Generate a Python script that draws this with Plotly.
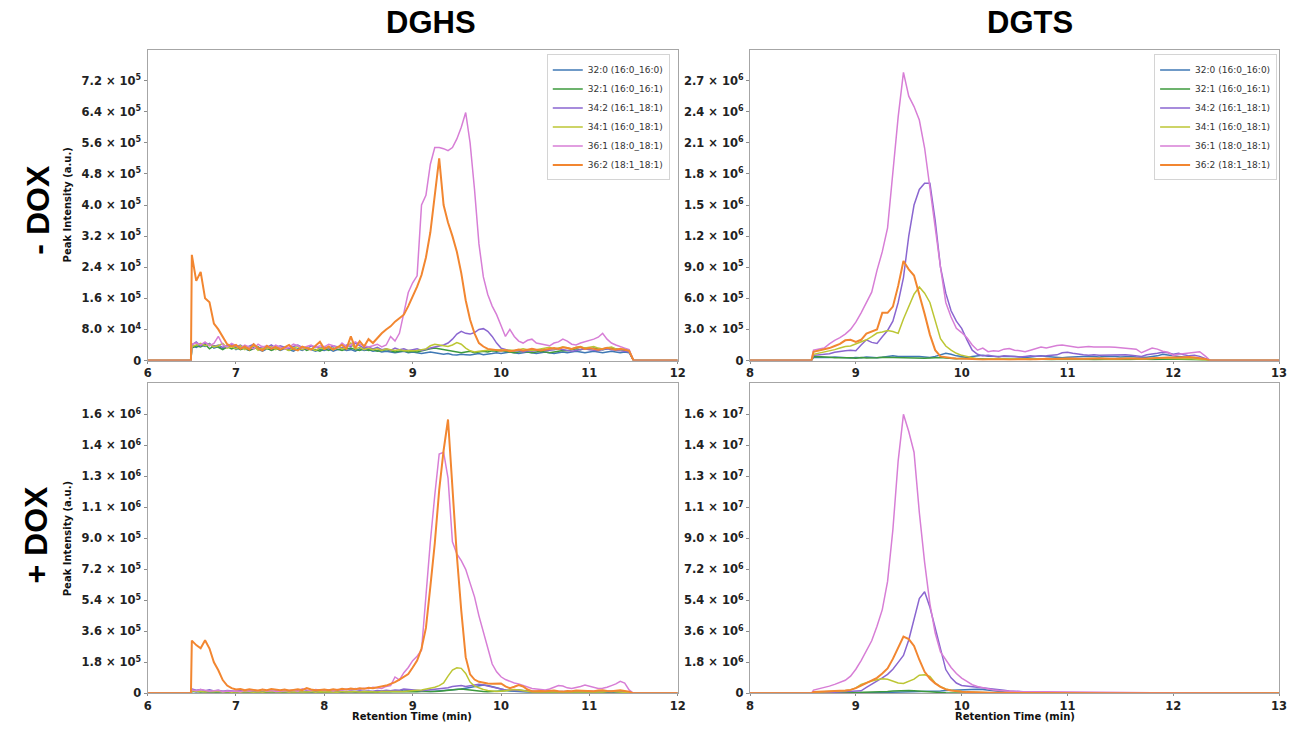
import plotly.graph_objects as go

# ---------------- categories / labels ----------------
SPECIES = ["32:0 (16:0_16:0)", "32:1 (16:0_16:1)", "34:2 (16:1_18:1)",
           "34:1 (16:0_18:1)", "36:1 (18:0_18:1)", "36:2 (18:1_18:1)"]
COLORS = ["#3f78b5", "#3d9a3d", "#8a66d0", "#bcc634", "#d77ed6", "#f28630"]
COL_TITLES = ["DGHS", "DGTS"]
ROW_TITLES = ["- DOX", "+ DOX"]
Y_TITLE = "Peak Intensity (a.u.)"
X_TITLE = "Retention Time (min)"

# retention-time sampling (min)
T_DGHS = [6.0, 6.49] + [round(6.5 + 0.05 * i, 2) for i in range(100)] + [11.5, 12.0]
T_DGTS = [8.0, 8.58] + [round(8.6 + 0.05 * i, 2) for i in range(75)] + [12.35, 13.0]

# ---------------- DGHS  -DOX  (x1000 a.u.) ----------------
DGHS_NEG_320 = [0, 0,
    38, 34, 40, 36, 44, 32, 36, 30, 34, 38,
    28, 34, 30, 26, 34, 30, 24, 30, 28, 32,
    26, 30, 28, 24, 30, 26, 32, 28, 24, 28,
    26, 30, 24, 28, 30, 26, 28, 24, 30, 26,
    28, 24, 26, 22, 24, 22, 20, 22, 24, 20,
    22, 20, 18, 20, 22, 20, 18, 16, 18, 15,
    14, 16, 15, 14, 16, 18, 15, 16, 18, 20,
    18, 20, 22, 20, 18, 20, 22, 20, 18, 20,
    22, 20, 18, 20, 22, 20, 22, 24, 22, 20,
    22, 24, 22, 20, 22, 24, 22, 20, 22, 20, 0, 0]
DGHS_NEG_321 = [0, 0,
    32, 38, 35, 42, 30, 38, 34, 28, 36, 30,
    34, 28, 32, 26, 30, 35, 28, 32, 26, 30,
    28, 32, 26, 30, 28, 34, 26, 30, 28, 24,
    30, 26, 32, 28, 26, 30, 32, 28, 26, 30,
    26, 28, 24, 26, 28, 25, 22, 24, 26, 22,
    24, 22, 25, 28, 30, 32, 30, 28, 26, 24,
    22, 20, 22, 24, 20, 22, 24, 22, 25, 24,
    26, 24, 22, 20, 22, 24, 22, 20, 22, 24,
    22, 20, 22, 24, 26, 25, 28, 30, 28, 32,
    30, 32, 30, 28, 30, 32, 30, 28, 26, 24, 0, 0]
DGHS_NEG_342 = [0, 0,
    40, 48, 38, 45, 42, 36, 40, 34, 38, 42,
    35, 40, 32, 38, 42, 30, 36, 34, 40, 32,
    38, 34, 30, 36, 40, 34, 30, 38, 35, 32,
    36, 30, 38, 34, 32, 40, 36, 45, 38, 32,
    35, 30, 34, 28, 30, 26, 32, 28, 30, 26,
    28, 30, 26, 30, 32, 35, 38, 40, 45, 55,
    68, 75, 70, 68, 72, 80, 82, 75, 62, 45,
    32, 28, 25, 24, 26, 22, 25, 24, 26, 28,
    25, 26, 28, 30, 28, 26, 24, 26, 28, 30,
    28, 26, 25, 28, 30, 28, 26, 25, 24, 22, 0, 0]
DGHS_NEG_341 = [0, 0,
    36, 40, 44, 38, 42, 35, 38, 44, 32, 36,
    30, 38, 28, 34, 38, 26, 32, 30, 36, 28,
    34, 30, 26, 32, 36, 28, 34, 30, 26, 32,
    30, 34, 28, 36, 30, 32, 45, 30, 34, 28,
    32, 28, 30, 26, 30, 28, 26, 28, 25, 26,
    25, 26, 28, 30, 38, 42, 40, 38, 36, 40,
    46, 42, 32, 25, 22, 24, 25, 26, 28, 27,
    28, 26, 27, 25, 28, 30, 28, 26, 28, 30,
    32, 34, 30, 32, 35, 33, 30, 34, 36, 32,
    34, 36, 32, 30, 33, 35, 30, 28, 30, 26, 0, 0]
DGHS_NEG_361 = [0, 0,
    42, 45, 40, 48, 38, 44, 62, 40, 35, 44,
    38, 32, 40, 36, 30, 42, 35, 38, 32, 40,
    36, 30, 34, 42, 38, 32, 36, 40, 33, 38,
    35, 42, 38, 32, 45, 36, 40, 48, 42, 38,
    35, 38, 42, 35, 40, 62, 50, 70, 120, 175,
    200, 218, 400, 425, 505, 548, 548, 545, 540, 548,
    570, 600, 638, 560, 440, 300, 215, 170, 140, 118,
    90, 62, 80, 62, 50, 45, 52, 55, 45, 42,
    40, 38, 45, 48, 55, 50, 42, 40, 45, 48,
    50, 55, 60, 70, 55, 45, 40, 35, 32, 28, 0, 0]
DGHS_NEG_362 = [0, 0,
    272, 205, 228, 160, 150, 95, 80, 62, 42, 36,
    40, 30, 36, 28, 42, 32, 26, 38, 30, 35,
    28, 34, 40, 30, 26, 36, 32, 28, 38, 48,
    30, 36, 28, 34, 40, 30, 62, 32, 50, 36,
    55, 45, 58, 70, 80, 88, 100, 110, 118, 140,
    165, 190, 220, 265, 330, 430, 520, 400, 355, 320,
    280, 225, 155, 105, 70, 45, 36, 30, 28, 26,
    25, 27, 24, 26, 28, 25, 27, 30, 28, 26,
    28, 30, 32, 30, 34, 32, 30, 33, 35, 30,
    32, 30, 28, 30, 33, 30, 28, 30, 27, 25, 0, 0]

# ---------------- DGTS  -DOX  (x1000 a.u.) ----------------
DGTS_NEG_320 = [0, 0,
    30, 28, 32, 30, 35, 30, 28, 25, 30, 28,
    35, 30, 28, 32, 40, 45, 40, 42, 45, 40,
    38, 32, 30, 40, 55, 70, 60, 45, 38, 30,
    40, 45, 50, 42, 40, 38, 35, 38, 40, 35,
    30, 35, 40, 45, 40, 35, 30, 28, 32, 35,
    40, 45, 42, 38, 35, 40, 42, 38, 35, 38,
    40, 35, 30, 32, 38, 45, 60, 50, 45, 40,
    35, 30, 28, 25, 15, 0, 0]
DGTS_NEG_321 = [0, 0,
    40, 35, 30, 32, 28, 30, 25, 28, 22, 30,
    25, 30, 28, 32, 30, 28, 32, 30, 28, 25,
    20, 22, 25, 28, 30, 25, 20, 18, 22, 20,
    18, 15, 12, 15, 18, 15, 12, 10, 12, 15,
    12, 10, 15, 12, 10, 8, 10, 12, 15, 12,
    10, 12, 10, 8, 10, 12, 15, 12, 10, 8,
    10, 12, 15, 12, 10, 12, 15, 18, 15, 12,
    10, 12, 10, 8, 5, 0, 0]
DGTS_NEG_342 = [0, 0,
    50, 55, 60, 65, 80, 90, 95, 100, 95, 150,
    200, 175, 165, 230, 290, 380, 560, 800, 1200, 1500,
    1650, 1710, 1710, 1350, 900, 650, 480, 380, 310, 200,
    100, 60, 45, 50, 40, 35, 45, 40, 38, 35,
    40, 45, 42, 40, 45, 50, 55, 75, 80, 70,
    60, 55, 50, 55, 50, 52, 48, 50, 52, 55,
    50, 45, 40, 55, 60, 70, 80, 75, 60, 70,
    55, 45, 50, 40, 20, 0, 0]
DGTS_NEG_341 = [0, 0,
    60, 70, 80, 90, 105, 120, 135, 140, 160, 180,
    200, 230, 265, 275, 290, 280, 262, 400, 520, 640,
    710, 650, 560, 380, 210, 140, 100, 70, 50, 40,
    25, 15, 12, 15, 18, 20, 15, 12, 15, 18,
    20, 18, 15, 12, 15, 18, 20, 22, 20, 18,
    15, 18, 20, 22, 20, 18, 15, 18, 20, 22,
    20, 18, 15, 18, 20, 25, 22, 20, 18, 15,
    18, 20, 15, 12, 8, 0, 0]
DGTS_NEG_361 = [0, 0,
    100, 108, 120, 160, 195, 220, 255, 300, 370, 460,
    560, 660, 870, 1050, 1280, 1800, 2350, 2780, 2550, 2450,
    2320, 2050, 1650, 1280, 900, 560, 420, 310, 270, 220,
    150, 100, 120, 85, 95, 90, 110, 115, 100, 95,
    85, 100, 115, 130, 120, 135, 145, 150, 140, 130,
    125, 130, 135, 130, 132, 135, 130, 128, 125, 120,
    118, 110, 75, 95, 120, 110, 90, 80, 50, 60,
    65, 70, 80, 85, 45, 0, 0]
DGTS_NEG_362 = [0, 0,
    85, 95, 105, 120, 140, 160, 195, 200, 180, 200,
    260, 280, 300, 460, 460, 520, 720, 960, 880, 820,
    640, 450, 250, 100, 40, 30, 25, 20, 22, 18,
    15, 10, 8, 10, 12, 15, 10, 8, 10, 12,
    15, 12, 10, 15, 18, 15, 18, 20, 22, 20,
    18, 15, 18, 20, 22, 20, 18, 15, 18, 20,
    22, 20, 18, 22, 25, 30, 28, 30, 28, 30,
    32, 35, 30, 25, 15, 0, 0]

# ---------------- DGHS  +DOX  (x1000 a.u.) ----------------
DGHS_POS_320 = [0, 0,
    12, 8, 10, 6, 8, 5, 7, 9, 6, 8,
    5, 7, 9, 6, 8, 5, 7, 6, 8, 5,
    7, 9, 6, 8, 5, 7, 10, 6, 8, 7,
    6, 8, 7, 9, 6, 8, 10, 7, 9, 8,
    10, 8, 12, 10, 9, 11, 14, 12, 20, 18,
    15, 12, 10, 12, 10, 12, 14, 15, 16, 18,
    20, 25, 30, 35, 38, 42, 48, 45, 40, 32,
    25, 18, 14, 12, 10, 8, 9, 7, 8, 6,
    7, 6, 8, 7, 6, 8, 7, 6, 7, 8,
    7, 6, 8, 7, 6, 8, 7, 6, 5, 4, 0, 0]
DGHS_POS_321 = [0, 0,
    10, 14, 8, 12, 9, 11, 8, 10, 7, 9,
    8, 10, 6, 9, 7, 10, 8, 6, 9, 7,
    9, 7, 10, 8, 12, 9, 7, 10, 8, 9,
    7, 10, 8, 9, 11, 8, 10, 9, 7, 10,
    8, 9, 7, 10, 8, 9, 10, 8, 9, 10,
    8, 9, 10, 9, 11, 10, 12, 14, 16, 18,
    20, 25, 22, 18, 14, 12, 10, 9, 10, 12,
    14, 12, 15, 18, 20, 16, 12, 10, 8, 7,
    6, 8, 7, 6, 8, 7, 6, 8, 7, 6,
    8, 7, 6, 8, 10, 12, 10, 8, 6, 4, 0, 0]
DGHS_POS_342 = [0, 0,
    25, 18, 22, 15, 20, 14, 18, 12, 16, 14,
    12, 16, 10, 14, 12, 15, 10, 13, 11, 14,
    12, 10, 14, 11, 13, 10, 15, 12, 10, 14,
    11, 13, 10, 14, 12, 10, 13, 11, 15, 12,
    14, 12, 16, 14, 18, 15, 20, 18, 25, 22,
    18, 16, 15, 18, 20, 22, 25, 28, 32, 40,
    42, 45, 40, 45, 50, 52, 48, 42, 35, 30,
    25, 20, 18, 16, 14, 12, 14, 12, 10, 12,
    10, 12, 11, 10, 12, 10, 11, 12, 10, 11,
    12, 10, 11, 12, 10, 12, 14, 12, 10, 8, 0, 0]
DGHS_POS_341 = [0, 0,
    15, 10, 12, 8, 11, 9, 12, 8, 10, 7,
    9, 7, 10, 8, 6, 9, 7, 10, 8, 6,
    8, 10, 7, 9, 8, 11, 8, 10, 7, 9,
    8, 10, 9, 7, 10, 8, 11, 9, 8, 10,
    9, 10, 8, 11, 10, 9, 12, 10, 11, 12,
    15, 18, 20, 25, 28, 35, 45, 60, 100, 135,
    148, 145, 115, 65, 42, 30, 22, 16, 12, 10,
    12, 15, 18, 22, 20, 15, 10, 8, 9, 8,
    7, 8, 6, 7, 8, 6, 7, 8, 6, 7,
    8, 7, 6, 8, 10, 12, 9, 8, 6, 4, 0, 0]
DGHS_POS_361 = [0, 0,
    20, 15, 22, 18, 12, 15, 18, 10, 14, 12,
    14, 10, 16, 12, 18, 14, 22, 12, 16, 10,
    12, 16, 14, 18, 12, 26, 20, 15, 22, 18,
    16, 20, 14, 22, 18, 25, 20, 28, 22, 30,
    26, 35, 30, 28, 40, 45, 95, 78, 120, 150,
    190, 215, 250, 580, 880, 1150, 1390, 1400, 1250, 880,
    810, 770, 720, 640, 560, 450, 360, 260, 170, 125,
    96, 80, 68, 60, 55, 45, 35, 28, 25, 22,
    20, 25, 35, 45, 42, 32, 28, 32, 40, 48,
    42, 35, 28, 30, 35, 45, 55, 70, 60, 20, 0, 0]
DGHS_POS_362 = [0, 0,
    306, 280, 262, 308, 260, 180, 134, 77, 45, 30,
    22, 25, 18, 24, 20, 16, 22, 18, 25, 20,
    18, 22, 16, 20, 24, 18, 30, 22, 18, 20,
    22, 18, 24, 20, 26, 22, 28, 24, 30, 26,
    32, 30, 36, 38, 45, 55, 65, 80, 95, 112,
    150, 190, 260, 380, 620, 870, 1180, 1410, 1590, 1200,
    800, 480, 210, 110, 80, 67, 60, 57, 55, 58,
    57, 40, 30, 38, 48, 40, 22, 12, 15, 14,
    12, 14, 16, 12, 10, 14, 12, 16, 14, 12,
    14, 12, 16, 18, 14, 12, 15, 18, 14, 10, 0, 0]

# ---------------- DGTS  +DOX  (x1000 a.u.) ----------------
DGTS_POS_320 = [0, 0,
    10, 12, 14, 15, 16, 18, 20, 22, 25, 28,
    30, 35, 40, 45, 50, 55, 60, 65, 70, 75,
    80, 90, 100, 120, 140, 160, 180, 200, 220, 240,
    250, 240, 220, 180, 140, 100, 70, 50, 40, 30,
    25, 20, 18, 15, 14, 13, 12, 12, 11, 10,
    10, 10, 9, 9, 9, 8, 8, 8, 8, 8,
    8, 8, 7, 7, 7, 7, 6, 6, 6, 6,
    6, 5, 5, 4, 2, 0, 0]
DGTS_POS_321 = [0, 0,
    20, 22, 25, 28, 30, 32, 35, 40, 45, 50,
    60, 70, 80, 90, 110, 140, 160, 170, 160, 150,
    120, 100, 80, 60, 45, 35, 30, 25, 22, 20,
    18, 16, 15, 14, 13, 12, 12, 11, 10, 10,
    10, 9, 9, 8, 8, 8, 8, 7, 7, 7,
    7, 7, 6, 6, 6, 6, 6, 6, 5, 5,
    5, 5, 5, 5, 5, 5, 5, 5, 4, 4,
    4, 4, 3, 3, 2, 0, 0]
DGTS_POS_342 = [0, 0,
    20, 30, 40, 50, 60, 70, 80, 90, 100, 150,
    350, 520, 700, 900, 1100, 1400, 1800, 2200, 3100, 4250,
    5500, 5900, 5000, 3800, 2500, 1380, 900, 600, 460, 430,
    400, 360, 330, 290, 250, 220, 180, 140, 110, 90,
    70, 60, 50, 45, 40, 38, 35, 32, 30, 30,
    30, 28, 28, 25, 25, 25, 22, 22, 20, 20,
    20, 20, 18, 18, 18, 18, 15, 15, 15, 15,
    15, 12, 12, 10, 5, 0, 0]
DGTS_POS_341 = [0, 0,
    60, 70, 80, 95, 110, 130, 150, 200, 320, 520,
    640, 720, 790, 840, 820, 700, 600, 570, 680, 820,
    1050, 1080, 980, 600, 380, 250, 180, 120, 100, 80,
    60, 50, 40, 35, 30, 28, 25, 22, 20, 20,
    18, 18, 17, 16, 16, 15, 15, 14, 14, 13,
    13, 12, 12, 12, 11, 11, 10, 10, 10, 10,
    10, 10, 10, 9, 9, 9, 9, 8, 8, 8,
    8, 8, 6, 5, 3, 0, 0]
DGTS_POS_361 = [0, 0,
    190, 260, 320, 420, 520, 620, 760, 1000, 1400, 1900,
    2500, 3050, 3900, 4860, 6500, 9500, 13500, 16200, 15200, 14000,
    10500, 7600, 5200, 3500, 2400, 1950, 1500, 1150, 880, 700,
    500, 400, 320, 250, 200, 170, 140, 120, 110, 100,
    96, 90, 85, 80, 78, 76, 72, 68, 65, 60,
    58, 55, 52, 50, 48, 46, 45, 44, 42, 40,
    40, 38, 38, 36, 35, 35, 34, 33, 32, 32,
    30, 30, 28, 25, 15, 0, 0]
DGTS_POS_362 = [0, 0,
    77, 85, 95, 110, 125, 140, 160, 200, 300, 450,
    600, 750, 900, 1150, 1450, 2000, 2700, 3300, 3150, 2750,
    1950, 1250, 850, 580, 380, 230, 160, 110, 90, 70,
    55, 45, 40, 35, 30, 28, 25, 22, 20, 20,
    18, 18, 16, 15, 15, 14, 14, 13, 12, 12,
    12, 12, 11, 11, 10, 10, 10, 10, 10, 10,
    10, 10, 10, 10, 10, 10, 10, 10, 10, 10,
    10, 10, 8, 6, 4, 0, 0]

UNIT = 1000.0

# ---------------- axis tick labels ----------------
TICKS_DGHS_NEG = ["0", "8.0 × 10<sup>4</sup>", "1.6 × 10<sup>5</sup>", "2.4 × 10<sup>5</sup>",
                  "3.2 × 10<sup>5</sup>", "4.0 × 10<sup>5</sup>", "4.8 × 10<sup>5</sup>",
                  "5.6 × 10<sup>5</sup>", "6.4 × 10<sup>5</sup>", "7.2 × 10<sup>5</sup>"]
TICKS_DGTS_NEG = ["0", "3.0 × 10<sup>5</sup>", "6.0 × 10<sup>5</sup>", "9.0 × 10<sup>5</sup>",
                  "1.2 × 10<sup>6</sup>", "1.5 × 10<sup>6</sup>", "1.8 × 10<sup>6</sup>",
                  "2.1 × 10<sup>6</sup>", "2.4 × 10<sup>6</sup>", "2.7 × 10<sup>6</sup>"]
TICKS_DGHS_POS = ["0", "1.8 × 10<sup>5</sup>", "3.6 × 10<sup>5</sup>", "5.4 × 10<sup>5</sup>",
                  "7.2 × 10<sup>5</sup>", "9.0 × 10<sup>5</sup>", "1.1 × 10<sup>6</sup>",
                  "1.3 × 10<sup>6</sup>", "1.4 × 10<sup>6</sup>", "1.6 × 10<sup>6</sup>"]
TICKS_DGTS_POS = ["0", "1.8 × 10<sup>6</sup>", "3.6 × 10<sup>6</sup>", "5.4 × 10<sup>6</sup>",
                  "7.2 × 10<sup>6</sup>", "9.0 × 10<sup>6</sup>", "1.1 × 10<sup>7</sup>",
                  "1.3 × 10<sup>7</sup>", "1.4 × 10<sup>7</sup>", "1.6 × 10<sup>7</sup>"]
TICK_STEP = [8e4, 3e5, 1.8e5, 1.8e6]
X_TICKS_DGHS = [6, 7, 8, 9, 10, 11, 12]
X_TICKS_DGTS = [8, 9, 10, 11, 12, 13]

# ---------------- build figure ----------------
W, H = 1296, 735
def px(x):
    return x / W
def py(y):
    return 1 - y / H

panels = [
    # (times, series, xaxis, yaxis, legend)
    (T_DGHS, [DGHS_NEG_320, DGHS_NEG_321, DGHS_NEG_342, DGHS_NEG_341, DGHS_NEG_361, DGHS_NEG_362], "x", "y", "legend"),
    (T_DGTS, [DGTS_NEG_320, DGTS_NEG_321, DGTS_NEG_342, DGTS_NEG_341, DGTS_NEG_361, DGTS_NEG_362], "x2", "y2", "legend2"),
    (T_DGHS, [DGHS_POS_320, DGHS_POS_321, DGHS_POS_342, DGHS_POS_341, DGHS_POS_361, DGHS_POS_362], "x3", "y3", None),
    (T_DGTS, [DGTS_POS_320, DGTS_POS_321, DGTS_POS_342, DGTS_POS_341, DGTS_POS_361, DGTS_POS_362], "x4", "y4", None),
]

fig = go.Figure()
for times, series, xa, ya, leg in panels:
    for name, color, vals in zip(SPECIES, COLORS, series):
        assert len(vals) == len(times), (name, len(vals), len(times))
        kw = dict(legend=leg, showlegend=True) if leg else dict(showlegend=False)
        fig.add_trace(go.Scatter(
            x=times, y=[v * UNIT for v in vals], mode="lines", name=name,
            line=dict(color=color, width=2.0 if name.startswith("36:2") else 1.5),
            xaxis=xa, yaxis=ya, **kw))

TICKFONT = dict(family="DejaVu Sans", size=11.5, color="#222222", weight="bold")
FRAME = dict(showline=True, mirror=True, linecolor="#a6a6a6", linewidth=1.3,
             ticks="outside", tickwidth=1, tickcolor="#8c8c8c",
             showgrid=False, zeroline=False, tickfont=TICKFONT,
             ticklabeloverflow="allow")

XDOM = [[px(145), px(680)], [px(753), px(1287)]]
YDOM = [[py(364), py(50)], [py(700), py(387)]]

ticklists = [TICKS_DGHS_NEG, TICKS_DGTS_NEG, TICKS_DGHS_POS, TICKS_DGTS_POS]
layout_axes = {}
for k in range(4):
    r, c = divmod(k, 2)
    suf = "" if k == 0 else str(k + 1)
    xt = X_TICKS_DGHS if c == 0 else X_TICKS_DGTS
    layout_axes["xaxis" + suf] = dict(domain=XDOM[c], range=[xt[0], xt[-1]], tickvals=xt,
                                      anchor="y" + suf, ticklen=2, **FRAME)
    step = TICK_STEP[k]
    layout_axes["yaxis" + suf] = dict(domain=YDOM[r], range=[0, step * 10],
                                      tickvals=[step * i for i in range(len(ticklists[k]))],
                                      ticktext=ticklists[k], anchor="x" + suf, ticklen=3, **FRAME)

fig.update_layout(**layout_axes)

annotations = []
TITLE_FONT = dict(family="Liberation Sans", size=31, color="#000000", weight="bold")
annotations.append(dict(text=COL_TITLES[0], x=px(431), y=py(23), font=TITLE_FONT))
annotations.append(dict(text=COL_TITLES[1], x=px(1036), y=py(23), font=TITLE_FONT))
ROW_FONT = dict(family="Liberation Sans", size=32, color="#000000", weight="bold")
annotations.append(dict(text=ROW_TITLES[0], x=px(34), y=py(212), textangle=-90, font=ROW_FONT))
annotations.append(dict(text=ROW_TITLES[1], x=px(32), y=py(540), textangle=-90, font=ROW_FONT))
LAB_FONT = dict(family="DejaVu Sans", size=10, color="#111111", weight="bold")
annotations.append(dict(text=Y_TITLE, x=px(64), y=py(207), textangle=-90, font=LAB_FONT))
annotations.append(dict(text=Y_TITLE, x=px(64), y=py(544), textangle=-90, font=LAB_FONT))
annotations.append(dict(text=X_TITLE, x=px(412), y=py(723), font=LAB_FONT))
annotations.append(dict(text=X_TITLE, x=px(1020), y=py(723), font=LAB_FONT))
for a in annotations:
    a.update(xref="paper", yref="paper", showarrow=False, xanchor="center", yanchor="middle")

LEG = dict(yanchor="top", xanchor="right", bgcolor="rgba(255,255,255,0.85)",
           bordercolor="#d4d4d4", borderwidth=1,
           font=dict(family="DejaVu Sans", size=9, color="#333333"))

fig.update_layout(
    width=W, height=H,
    margin=dict(l=0, r=0, t=0, b=0),
    paper_bgcolor="white", plot_bgcolor="white",
    annotations=annotations,
    legend=dict(x=px(672), y=py(55), **LEG),
    legend2=dict(x=px(1285), y=py(55), **LEG),
)

# remove the browser's default 8px page margin so the figure fills the window exactly
fig.write_html("out.html", config={"displayModeBar": False},
               post_script="document.body.style.margin='0';document.body.style.overflow='hidden';")
